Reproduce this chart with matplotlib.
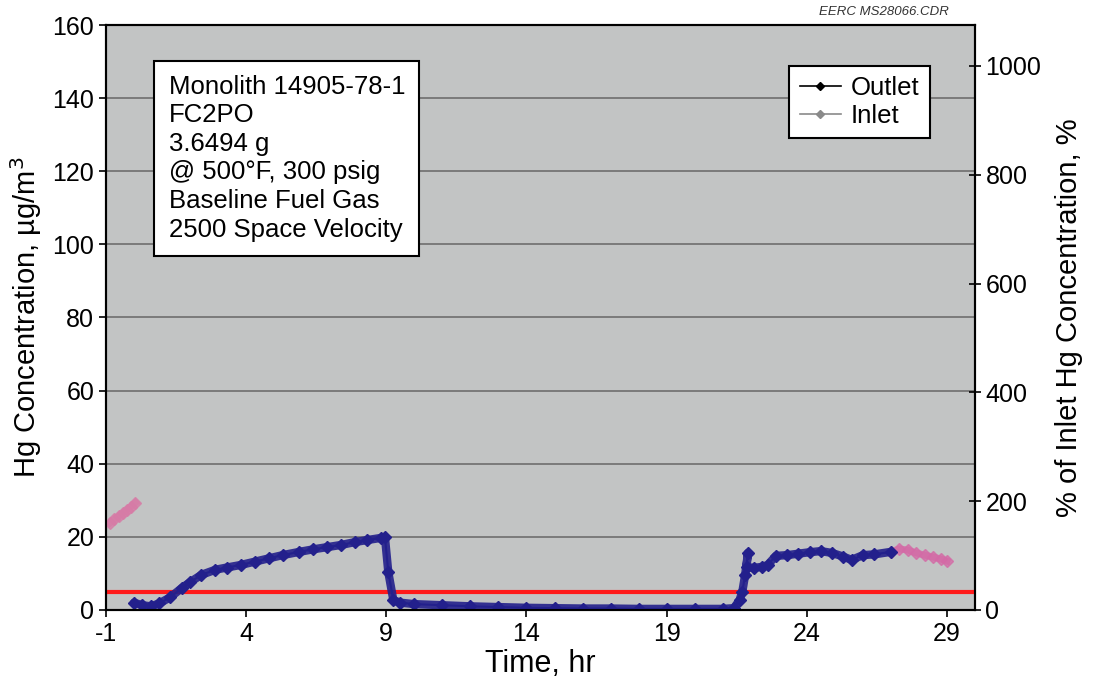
import matplotlib
matplotlib.use('Agg')
import matplotlib.pyplot as plt
from matplotlib.lines import Line2D
import numpy as np

plt.rcParams['font.family'] = ['Liberation Sans', 'DejaVu Sans']
plt.rcParams['axes.unicode_minus'] = False

# outlet Hg concentration, ug/m3
outlet_t = [0.0, 0.3, 0.6, 0.9, 1.3, 1.7, 2.0, 2.4, 2.9, 3.3, 3.8, 4.3, 4.8, 5.3, 5.9,
            6.4, 6.9, 7.4, 7.9, 8.3, 8.8, 8.95, 9.07, 9.25, 9.5, 10.0, 11.0, 12.0, 13.0,
            14.0, 15.0, 16.0, 17.0, 18.0, 19.0, 20.0, 21.0, 21.4, 21.6, 21.7, 21.8,
            21.9, 21.85, 22.1, 22.4, 22.6, 22.9, 23.3, 23.7, 24.1, 24.5, 24.9, 25.3,
            25.6, 26.0, 26.4, 27.0]
outlet_v = [2.0, 1.3, 1.0, 1.8, 3.5, 6.0, 7.6, 9.6, 11.0, 11.6, 12.3, 13.2, 14.1, 15.0, 15.9,
            16.6, 17.2, 17.8, 18.6, 19.1, 19.7, 20.0, 10.4, 2.7, 2.0, 1.6, 1.3, 1.0, 0.8,
            0.6, 0.5, 0.4, 0.4, 0.3, 0.3, 0.3, 0.3, 0.5, 2.7, 5.0, 9.6,
            15.6, 11.8, 11.5, 11.8, 12.3, 14.8, 15.0, 15.4, 15.8, 16.1, 15.6, 14.6,
            13.7, 15.0, 15.2, 15.9]

# inlet Hg concentration, ug/m3
inlet_t = [-0.85, -0.7, -0.55, -0.4, -0.25, -0.1, 0.05,
           27.0, 27.3, 27.6, 27.9, 28.2, 28.5, 28.8, 29.0]
inlet_v = [23.8, 24.8, 25.6, 26.5, 27.4, 28.3, 29.3,
           15.9, 16.7, 16.4, 15.6, 15.0, 14.5, 13.9, 13.4]

threshold = 5.0
inlet_ref = 14.88  # 100 % of inlet

xticks = [-1, 4, 9, 14, 19, 24, 29]
yticks = [0, 20, 40, 60, 80, 100, 120, 140, 160]
pct_ticks = [0, 200, 400, 600, 800, 1000]

info = ['Monolith 14905-78-1', 'FC2PO', '3.6494 g', '@ 500\u00b0F, 300 psig',
        'Baseline Fuel Gas', '2500 Space Velocity']

fig = plt.figure(figsize=(10.96, 6.89), dpi=100)
ax = fig.add_axes([0.0967, 0.1147, 0.7929, 0.849])
ax.set_facecolor('#c2c4c4')

for y in yticks[1:-1]:
    ax.axhline(y, color='#6e6e6e', lw=1.2, zorder=1)

ax.axhline(threshold, color='#ff1a1a', lw=3, zorder=3)

inl_a = np.array(inlet_t)
inl_v = np.array(inlet_v)
first = inl_a < 5
ax.plot(inl_a[first], inl_v[first], color='#d77ba6', lw=5, marker='D', ms=6,
        alpha=0.75, zorder=4)
ax.plot(inl_a[~first], inl_v[~first], color='#d46aa6', lw=5, marker='D', ms=6,
        alpha=0.75, zorder=4)
ax.plot(outlet_t, outlet_v, color='#23208c', lw=1.5, marker='D', ms=6,
        zorder=5)
# thick band over the densely sampled sections
ax.plot(outlet_t, outlet_v, color='#23208c', lw=6, alpha=0.9, zorder=5,
        solid_capstyle='round')

ax.set_xlim(-1, 30)
ax.set_ylim(0, 160)
ax.set_xticks(xticks)
ax.set_yticks(yticks)
ax.tick_params(labelsize=18, length=5, width=1.2, direction='out')
for s in ax.spines.values():
    s.set_linewidth(1.5)
ax.set_xlabel('Time, hr', fontsize=22, labelpad=2)
ax.set_ylabel('Hg Concentration, \u00b5g/m$^3$', fontsize=21, labelpad=6)

ax2 = ax.twinx()
ax2.set_ylim(0, 160 * 100 / inlet_ref)
ax2.set_yticks(pct_ticks)
ax2.tick_params(labelsize=18, length=8, width=1.2, direction='inout')
ax2.set_ylabel('% of Inlet Hg Concentration, %', fontsize=21, labelpad=10)
for s in ax2.spines.values():
    s.set_linewidth(1.5)

ax.text(0.072, 0.915, '\n'.join(info), transform=ax.transAxes, fontsize=18.5,
        va='top', ha='left', linespacing=1.24, zorder=6,
        bbox=dict(boxstyle='square,pad=0.55', fc='white', ec='black', lw=1.5))

handles = [Line2D([], [], color='black', marker='D', ms=4, lw=1.2),
           Line2D([], [], color='#8a8a8a', marker='D', ms=4, lw=1.2)]
leg = ax.legend(handles, ['Outlet', 'Inlet'], loc='upper right',
                bbox_to_anchor=(0.963, 0.952), fontsize=18.5, fancybox=False,
                framealpha=1, edgecolor='black', borderpad=0.4,
                handlelength=1.6, handletextpad=0.4, labelspacing=0.15)
leg.get_frame().set_linewidth(1.5)
leg.set_zorder(7)

fig.text(0.866, 0.983, 'EERC MS28066.CDR', fontsize=9.5, style='italic',
         ha='right', va='center', color='#333333')

fig.savefig('out.png', dpi=100)
